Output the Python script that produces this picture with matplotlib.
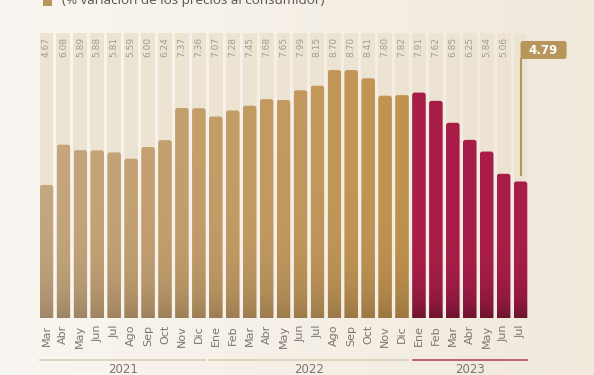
import numpy as np
import matplotlib
matplotlib.use('Agg')
import matplotlib.pyplot as plt
from matplotlib.patches import FancyBboxPatch, Rectangle
from matplotlib.colors import to_rgb
import matplotlib.transforms as mtransforms

# datos: inflacion anual (% variacion de los precios al consumidor)
meses = ['Mar', 'Abr', 'May', 'Jun', 'Jul', 'Ago', 'Sep', 'Oct', 'Nov', 'Dic',
         'Ene', 'Feb', 'Mar', 'Abr', 'May', 'Jun', 'Jul', 'Ago', 'Sep', 'Oct', 'Nov', 'Dic',
         'Ene', 'Feb', 'Mar', 'Abr', 'May', 'Jun', 'Jul']
valores = [4.67, 6.08, 5.89, 5.88, 5.81, 5.59, 6.00, 6.24, 7.37, 7.36,
           7.07, 7.28, 7.45, 7.68, 7.65, 7.99, 8.15, 8.70, 8.70, 8.41, 7.80, 7.82,
           7.91, 7.62, 6.85, 6.25, 5.84, 5.06, 4.79]
anios = ['2021', '2022', '2023']
meses_por_anio = [10, 12, 7]

n = len(valores)
x = np.arange(n)

fig = plt.figure(figsize=(5.94, 3.75), dpi=100)
fig.patch.set_facecolor('#f2ebdf')

# fondo con degradado
bg = fig.add_axes([0, 0, 1, 1], zorder=-10)
grad = np.linspace(0, 1, 200)
c0, c1 = np.array(to_rgb('#f9f6f1')), np.array(to_rgb('#f1e9dc'))
img = c0[None, :] + (c1 - c0)[None, :] * grad[:, None]
bg.imshow(img[None, :, :], aspect='auto', extent=[0, 1, 0, 1])
bg.axis('off')

W, H = 594, 375
left, right, top, bottom = 38, 529, 33, 318
ax = fig.add_axes([left / W, 1 - bottom / H, (right - left) / W, (bottom - top) / H])
ax.set_xlim(-0.5, n - 0.5)
ax.set_ylim(0, 10)
ax.patch.set_alpha(0)
for s in ax.spines.values():
    s.set_visible(False)

# pistas de fondo
ax.bar(x, [10] * n, width=0.82, color='#ece3d3', zorder=1)

ancho = 0.8
asp = (1 / 28.5) / (1 / 16.93)
oro_a = np.array(to_rgb('#c5a780'))
oro_b = np.array(to_rgb('#c1934f'))
rojo = np.array(to_rgb('#a91e48'))
yy = np.linspace(10, 0, 300)

for i, v in enumerate(valores):
    if i < 22:
        top_c = oro_a + (oro_b - oro_a) * (i / 21)
        f = 1 - 0.2 * np.exp(-yy / 1.2)
    else:
        top_c = rojo
        f = 1 - 0.35 * np.exp(-yy / 0.8)
    col = top_c[None, :] * f[:, None]
    p = FancyBboxPatch((i - ancho / 2, -0.5), ancho, v + 0.5,
                       boxstyle='round,pad=0,rounding_size=0.15',
                       mutation_aspect=asp, facecolor='none', edgecolor='none', zorder=2)
    ax.add_patch(p)
    im = ax.imshow(col[:, None, :], aspect='auto', extent=[i - ancho / 2, i + ancho / 2, 0, 10],
                   zorder=2)
    im.set_clip_path(p)

ax.set_xlim(-0.5, n - 0.5)
ax.set_ylim(0, 10)

# etiquetas de valor
for i, v in enumerate(valores[:-1]):
    ax.text(i, 9.85, '%.2f' % v, rotation=90, ha='center', va='top',
            fontsize=6.5, color='#a19b92', zorder=3)

# recuadro del ultimo dato
ax.plot([n - 1 + 0.03, n - 1 + 0.03], [5.02, 9.1], color='#b8955a', lw=1.5,
        clip_on=False, zorder=4)
box = FancyBboxPatch((n - 1, 9.09), 2.72, 0.63, boxstyle='round,pad=0,rounding_size=0.15',
                     mutation_aspect=asp, facecolor='#b8955a', edgecolor='none',
                     clip_on=False, zorder=4)
ax.add_patch(box)
ax.text(n - 1 + 1.36, 9.40, '%.2f' % valores[-1], ha='center', va='center',
        fontsize=8.5, fontweight='bold', color='white', zorder=5)

# meses
ax.set_xticks(x)
ax.set_xticklabels(meses, rotation=90, fontsize=8, color='#7a766f')
ax.tick_params(axis='x', length=0, pad=5)
ax.set_yticks([])

# anios
trans = mtransforms.blended_transform_factory(ax.transData, ax.transAxes)
inicio = 0
for k, (a, m) in enumerate(zip(anios, meses_por_anio)):
    fin = inicio + m - 1
    lc = '#b24766' if k == 2 else '#dccdb6'
    ax.plot([inicio - 0.38, fin + 0.37], [-0.147, -0.147], color=lc, lw=1.2,
            transform=trans, clip_on=False)
    ax.text((inicio + fin) / 2, -0.18, a, ha='center', va='center', fontsize=8.5,
            color='#7a766f', transform=trans)
    inicio = fin + 1

# titulo (cortado arriba, como en el original)
fig.patches.append(Rectangle((43 / W, 1 - 6 / H), 9 / W, 10 / H, transform=fig.transFigure,
                             facecolor='#b8955a', edgecolor='none'))
fig.text(62 / W, 1 - 4 / H, '(% variación de los precios al consumidor)', fontsize=9.7,
         color='#5a5550', va='baseline', ha='left', family='Open Sans')

fig.savefig('out.png', dpi=100, facecolor=fig.get_facecolor())
